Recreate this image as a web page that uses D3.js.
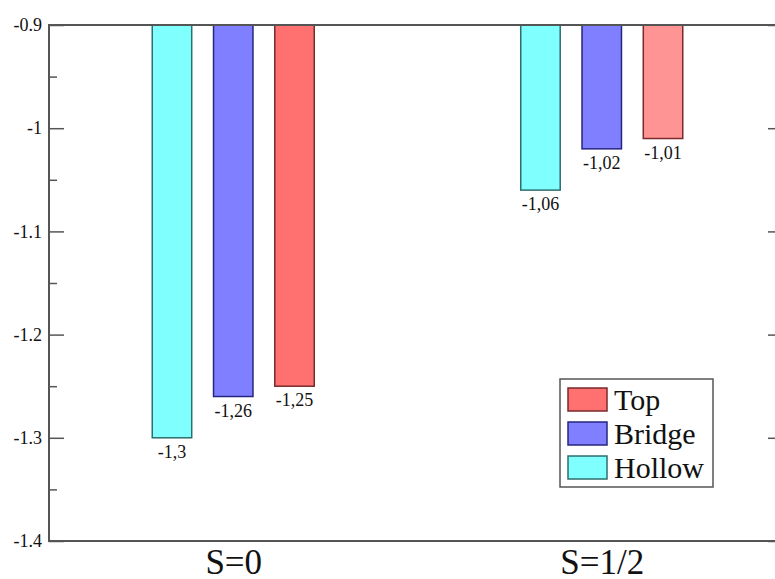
<!DOCTYPE html>
<html>
<head>
<meta charset="utf-8">
<script src="https://cdn.jsdelivr.net/npm/d3@7"></script>
<style>
  body { margin: 0; background: #fff; }
  svg text { font-family: "Liberation Serif", "DejaVu Serif", serif !important; fill: #111; }
</style>
</head>
<body>
<svg id="chart" width="775" height="579"></svg>
<script>
// data
var groups = ["S=0", "S=1/2"];
var series = ["Hollow", "Bridge", "Top"];
var hollow = [-1.3, -1.06];
var bridge = [-1.26, -1.02];
var topSite = [-1.25, -1.01];
var valueLabels = [["-1,3", "-1,26", "-1,25"], ["-1,06", "-1,02", "-1,01"]];
var yTicks = [-0.9, -1, -1.1, -1.2, -1.3, -1.4];
var yTickLabels = ["-0.9", "-1", "-1.1", "-1.2", "-1.3", "-1.4"];
var legendOrder = ["Top", "Bridge", "Hollow"];

// farver
var fills = { Hollow: "#80FFFF", Bridge: "#7F7FFF", Top: "#FF7070" };
var strokes = { Hollow: "#2E6E6E", Bridge: "#262680", Top: "#7A2A2A" };
var topFillLight = "#FF9494"; // S=1/2 top-søjlen er lysere

var svg = d3.select("#chart");
var plotLeft = 49, plotRight = 786, plotTop = 25, plotBottom = 541;

var y = d3.scaleLinear().domain([-0.9, -1.4]).range([plotTop, plotBottom]);
var x = d3.scalePoint().domain(groups).range([plotLeft, plotRight]).padding(0.5);
var xInner = d3.scaleBand().domain(series).range([-81, 81]).paddingInner(0.356);

var rows = [];
groups.forEach(function(g, gi) {
  var vals = [hollow[gi], bridge[gi], topSite[gi]];
  series.forEach(function(s, si) {
    rows.push({ group: g, gi: gi, series: s, value: vals[si], label: valueLabels[gi][si] });
  });
});

// søjler
svg.append("g").selectAll("rect")
  .data(rows)
  .enter().append("rect")
    .attr("x", function(d) { return x(d.group) + xInner(d.series); })
    .attr("y", y(-0.9))
    .attr("width", xInner.bandwidth())
    .attr("height", function(d) { return y(d.value) - y(-0.9); })
    .attr("fill", function(d) { return (d.series === "Top" && d.gi === 1) ? topFillLight : fills[d.series]; })
    .attr("stroke", function(d) { return strokes[d.series]; })
    .attr("stroke-width", 1.5);

// værdier under søjlerne
svg.append("g").selectAll("text")
  .data(rows)
  .enter().append("text")
    .attr("x", function(d) { return x(d.group) + xInner(d.series) + xInner.bandwidth() / 2; })
    .attr("y", function(d) { return y(d.value) + 20; })
    .attr("text-anchor", "middle")
    .style("font-size", "18px")
    .text(function(d) { return d.label; });

// akser
var axisColor = "#555";
var minorTicks = [-0.95, -1.05, -1.15, -1.25, -1.35];

var gL = svg.append("g").attr("transform", "translate(" + plotLeft + ",0)")
  .call(d3.axisLeft(y).tickValues(yTicks).tickSize(-15).tickPadding(7)
    .tickFormat(function(d, i) { return yTickLabels[i]; }));
gL.select(".domain").remove();
gL.selectAll(".tick line").attr("stroke", axisColor).attr("stroke-width", 1.5);
gL.selectAll(".tick text").style("font-size", "18px").attr("fill", "#111");

var gLm = svg.append("g").attr("transform", "translate(" + plotLeft + ",0)")
  .call(d3.axisLeft(y).tickValues(minorTicks).tickSize(-8).tickFormat(""));
gLm.select(".domain").remove();
gLm.selectAll(".tick line").attr("stroke", axisColor).attr("stroke-width", 1.5);

var gR = svg.append("g").attr("transform", "translate(" + (plotRight - 3) + ",0)")
  .call(d3.axisRight(y).tickValues(yTicks).tickSize(-15).tickFormat(""));
gR.select(".domain").remove();
gR.selectAll(".tick line").attr("stroke", axisColor).attr("stroke-width", 1.5);
var gRm = svg.append("g").attr("transform", "translate(" + (plotRight - 3) + ",0)")
  .call(d3.axisRight(y).tickValues(minorTicks).tickSize(-8).tickFormat(""));
gRm.select(".domain").remove();
gRm.selectAll(".tick line").attr("stroke", axisColor).attr("stroke-width", 1.5);

// ramme
svg.append("path")
  .attr("d", "M" + plotRight + "," + plotTop + "H" + plotLeft + "V" + plotBottom + "H" + plotRight)
  .attr("fill", "none")
  .attr("stroke", axisColor)
  .attr("stroke-width", 2);

// kategorier
var gX = svg.append("g").attr("transform", "translate(0," + plotBottom + ")")
  .call(d3.axisBottom(x).tickSize(0).tickPadding(0));
gX.select(".domain").remove();
gX.selectAll(".tick text")
  .attr("dy", null)
  .attr("y", 33)
  .style("font-size", "35px")
  .attr("fill", "#111");

// legend
var lg = svg.append("g").attr("transform", "translate(560,379)");
lg.append("rect")
  .attr("width", 153).attr("height", 108)
  .attr("fill", "#fff").attr("stroke", axisColor).attr("stroke-width", 1.5);
legendOrder.forEach(function(s, i) {
  lg.append("rect")
    .attr("x", 8).attr("y", 9 + i * 34)
    .attr("width", 39).attr("height", 23)
    .attr("fill", fills[s]).attr("stroke", strokes[s]).attr("stroke-width", 1.5);
  lg.append("text")
    .attr("x", 54).attr("y", 31 + i * 34)
    .style("font-size", "30px")
    .text(s);
});
</script>
</body>
</html>
